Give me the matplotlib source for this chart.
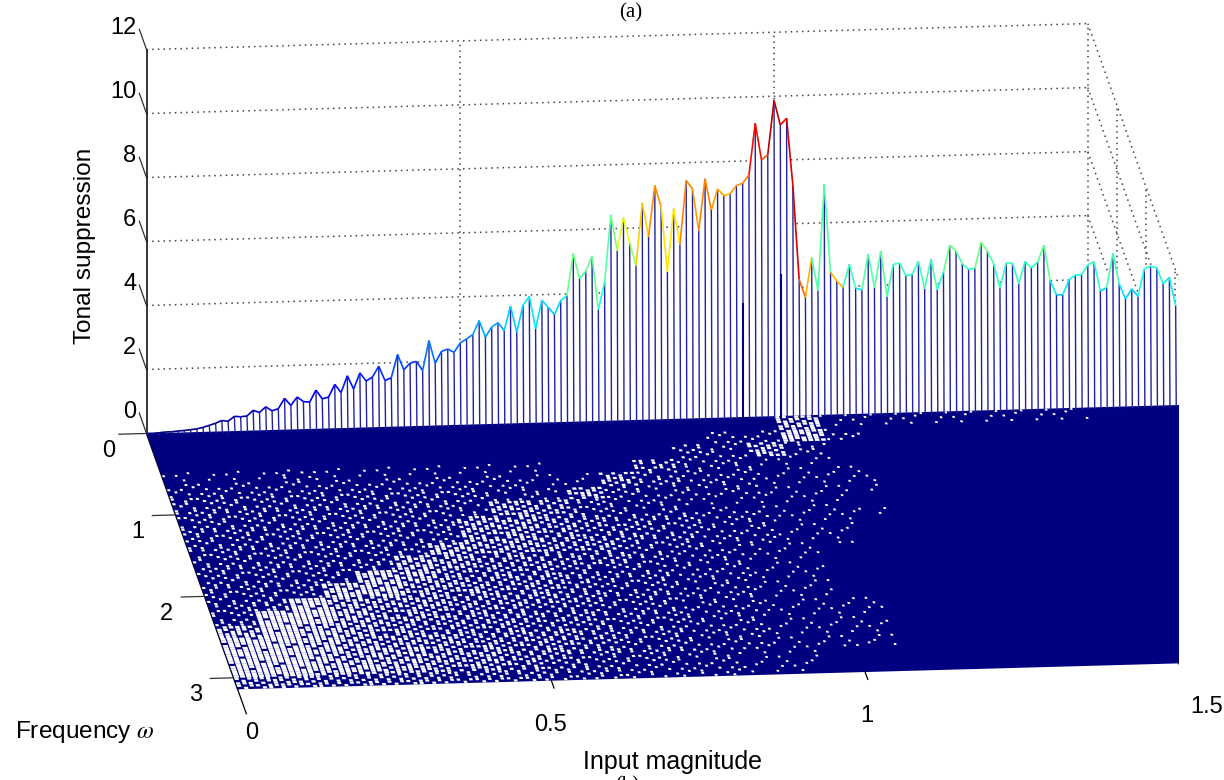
import numpy as np
import matplotlib
matplotlib.use("Agg")
from matplotlib import pyplot as plt
from mpl_toolkits.mplot3d.art3d import Line3DCollection, Poly3DCollection

plt.rcParams['font.family'] = ['Liberation Sans', 'DejaVu Sans']
plt.rcParams['mathtext.fontset'] = 'stix'

# tonal suppression along the back row, one value per 0.01 of input magnitude
ridge_z = [
    0, 0, .01, .03, .03, .05, .06, .08, .10, .14, .20, .26, .34, .31, .46, .44, .46, .63, .56, .73,
    .60, .66, .98, .75, 1.01, .86, .84, 1.21, .93, .98, 1.37, 1.11, 1.63, 1.21, 1.71, 1.45, 1.57, 1.90, 1.45, 1.53,
    2.25, 1.77, 1.97, 2.02, 1.73, 2.66, 1.95, 2.31, 2.38, 2.27, 2.56, 2.68, 2.81, 3.24, 2.72, 3.03, 3.16, 2.91, 3.67, 2.85,
    3.68, 3.96, 2.94, 3.82, 3.60, 3.36, 3.80, 3.95, 5.25, 4.46, 4.69, 5.16, 3.48, 4.33, 6.43, 5.31, 6.33, 5.53, 4.83, 6.78,
    5.72, 7.31, 6.65, 4.61, 6.57, 5.45, 7.44, 7.18, 5.87, 7.48, 6.50, 7.15, 6.94, 6.99, 7.24, 7.31, 7.56, 9.17, 8.02, 8.18,
    9.87, 9.10, 9.30, 7.19, 4.25, 3.69, 4.92, 3.89, 7.20, 4.45, 4.17, 3.97, 4.68, 3.93, 3.87, 4.99, 3.93, 5.07, 3.64, 4.64,
    4.68, 4.28, 4.31, 4.71, 3.85, 4.78, 3.81, 4.36, 5.20, 5.00, 4.60, 4.42, 4.45, 5.26, 4.97, 4.57, 3.81, 4.59, 4.58, 3.93,
    4.62, 4.41, 4.59, 5.10, 4.00, 3.55, 3.54, 4.01, 4.15, 4.16, 4.46, 4.55, 3.63, 3.73, 4.80, 3.84, 3.36, 3.67, 3.43, 4.29,
    4.36, 4.31, 3.80, 4.00, 3.11,
]
# points whose line colour in the picture does not follow their height: index, colour level
colour_fix_i = [74, 103, 104, 105, 108, 110]
colour_fix_z = [5.0, 9.5, 8.0, 7.0, 5.0, 7.0]
# two spikes standing just in front of the back row
inner_mag = [0.95, 1.01]
inner_z = [3.6, 4.5]

# how open the floor mesh looks, tenths, rows = frequency 0..pi, columns = magnitude 0..1.5
floor_open = [
    "000000000000000071111111",
    "000000000000002282000000",
    "000000000000032620000000",
    "111211111100422110000000",
    "222222222115322111000000",
    "333333332263222111000000",
    "333333326532211110000000",
    "333333366543322111000000",
    "333333366544322110000000",
    "333333766553322110000000",
    "333337655443221100000000",
    "333387555433221100000000",
    "333886655433221100000000",
    "349766555433221100000000",
    "399766554433221110000000",
    "798765554433221110000000",
    "998766555433221110000000",
    "998776655433221110000000",
    "998876654332211000000000",
    "665554443322211000000000",
]

x_ticks = [0, 0.5, 1, 1.5]
x_tick_len = [0.30, 0.09, 0.09, 0.09]
x_label_m = [-0.003, 0.474, 0.978, 1.519]
y_ticks = [0, 1, 2, 3]
z_ticks = [0, 2, 4, 6, 8, 10, 12]
FREQ_MAX = np.pi

navy = (0, 0, 0.5)
stem_blue = '#2222a0'
dots = (0, (1, 2.7))
dot_col = '#444444'

fig = plt.figure(figsize=(12.24, 7.8), dpi=100)
W = 1060.2
ax = fig.add_axes([118.3 / 1224, (780 - 900.9) / 780, W / 1224, W / 780], projection='3d')
ax.set_proj_type('ortho')
ax.view_init(elev=16.16, azim=-95.66)
ax.set_box_aspect((945.9, 923.9, 399.7), zoom=1.2648)
ax.set_axis_off()
ax.patch.set_alpha(0)
ax.computed_zorder = False

mag = np.arange(len(ridge_z)) * 0.01
z = np.array(ridge_z)
mag_end = mag[-1]

# wall grid
for lv in z_ticks[1:]:
    ax.plot([0, 1.5], [0, 0], [lv, lv], color=dot_col, lw=1.1, ls=dots, zorder=1)
    ax.plot([1.5, 1.5], [0, FREQ_MAX], [lv, lv], color=dot_col, lw=1.1, ls=dots, zorder=1)
for t in x_ticks[1:]:
    ax.plot([t, t], [0, 0], [0, 12], color=dot_col, lw=1.1, ls=dots, zorder=1)
for t in y_ticks[1:]:
    ax.plot([1.5, 1.5], [t, t], [0, 12], color=dot_col, lw=1.1, ls=dots, zorder=1)

# axes lines and ticks
ax.plot([0, 0], [0, 0], [0, 12], color='k', lw=1.1, zorder=2)
ax.plot([0, 0], [0, FREQ_MAX], [0, 0], color='k', lw=1.1, zorder=2)
for lv in z_ticks:
    ax.plot([0, 0], [0, -0.25], [lv, lv], color='#333333', lw=0.9, zorder=2)
    ax.text(-0.004, -0.27, lv, str(lv), fontsize=17, ha='right', va='center', zorder=9)
for t, name_x, ln in zip(x_ticks, x_label_m, x_tick_len):
    ax.plot([t, t], [FREQ_MAX, FREQ_MAX + ln], [0, 0], color='k', lw=0.9, zorder=2)
    ax.text(name_x, FREQ_MAX + 0.54, 0, str(t), fontsize=17, ha='center', va='center', zorder=9)
ax.plot([-0.044, 0], [0, 0], [0, 0], color='#333333', lw=0.9, zorder=2)
for t in y_ticks[1:]:
    ax.plot([-0.037, 0], [t, t], [0, 0], color='#333333', lw=0.9, zorder=2)
for t in y_ticks:
    ax.text(-0.07, t + 0.2, 0, str(t), fontsize=17, ha='center', va='center', zorder=9)

# white face under the ridge hides the grid behind it
face = list(zip(mag, np.zeros_like(mag), z)) + [(mag_end + 0.01, 0, z[-1]), (mag_end + 0.01, 0, 0), (0, 0, 0)]
ax.add_collection3d(Poly3DCollection([face], facecolor='white', edgecolor='none', zorder=3))

# floor
floor = [(0, 0, 0), (mag_end + 0.01, 0, 0), (mag_end + 0.01, FREQ_MAX, 0), (0, FREQ_MAX, 0)]
ax.add_collection3d(Poly3DCollection([floor], facecolor=navy, edgecolor='none', zorder=4))

# open cells of the mesh: the table gives the share of open cells, this fixed matrix picks which ones
dither = [[34, 12, 57, 3, 44, 23, 61, 8],
          [49, 27, 6, 38, 16, 53, 31, 19],
          [1, 62, 21, 52, 9, 40, 2, 47],
          [36, 14, 43, 30, 59, 25, 55, 13],
          [58, 5, 24, 63, 18, 4, 37, 28],
          [17, 41, 50, 11, 33, 48, 10, 60],
          [29, 7, 35, 0, 56, 22, 42, 20],
          [46, 54, 15, 39, 26, 51, 32, 45]]
dm, df = 0.01, FREQ_MAX / 110
holes = []
for j in range(110):
    row = floor_open[int(j * len(floor_open) / 110)]
    f0 = j * df
    for k in range(150):
        d = int(row[int(k * len(row) / 150)]) / 10
        if d == 0 or d ** 0.9 * 64 <= dither[j % 8][(k + 3 * (j // 8)) % 8]:
            continue
        w = (0.35 + 0.50 * d) * dm
        h = (0.80 + 0.30 * d) * df
        m0 = k * dm + 0.001
        holes.append([(m0, f0, 0), (m0 + w, f0, 0), (m0 + w, f0 + h, 0), (m0, f0 + h, 0)])
ax.add_collection3d(Poly3DCollection(holes, facecolor='white', edgecolor='none', zorder=5))

# stems and coloured ridge line
stems = [[(a, 0, b), (a, 0.02, 0)] for a, b in zip(mag, z)]
ax.add_collection3d(Line3DCollection(stems, colors=[stem_blue], linewidths=1.0, zorder=6))
thick = [[(a, 0.02, b), (a, 0.02, 0)] for a, b in zip(inner_mag, inner_z)]
ax.add_collection3d(Line3DCollection(thick, colors=[navy], linewidths=1.5, zorder=6))
segs = [[(mag[i], 0, z[i]), (mag[i + 1], 0, z[i + 1])] for i in range(len(z) - 1)]
level = z.copy()
level[colour_fix_i] = colour_fix_z
seg_col = plt.cm.jet(np.interp(np.maximum(level[:-1], level[1:]), [0, 5, 7.3, 9.9], [0, 0.45, 0.76, 0.95]))
ax.add_collection3d(Line3DCollection(segs, colors=seg_col, linewidths=1.2, zorder=7))

ax.set_xlim(0, 1.5)
ax.set_ylim(FREQ_MAX, 0)
ax.set_zlim(0, 12)

# labels
fig.text(85 / 1224, 1 - 246 / 780, "Tonal suppression", fontsize=17.6, rotation=90, ha='center', va='center')
fig.text(15 / 1224, 1 - 732 / 780, r"Frequency $\omega$", fontsize=17.6, ha='left', va='center')
fig.text(672 / 1224, 1 - 762 / 780, "Input magnitude", fontsize=18, ha='center', va='center')
fig.text(631 / 1224, 1 - 13 / 780, "(a)", fontsize=15, family='Liberation Serif', ha='center', va='center')
fig.text(627 / 1224, 1 - 776 / 780, "(b)", fontsize=15, family='Liberation Serif', ha='center', va='top')

plt.savefig("out.png", dpi=100)
